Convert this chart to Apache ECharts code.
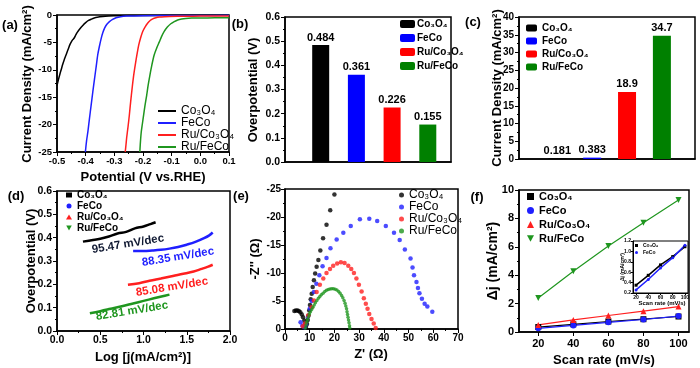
<!DOCTYPE html>
<html><head><meta charset="utf-8">
<script src="https://cdn.jsdelivr.net/npm/echarts@6/dist/echarts.min.js"></script>
<style>html,body{margin:0;padding:0;background:#fff}#c{width:700px;height:368px}</style>
</head><body><div id="c"></div>
<script>
// ---------------- DATA ----------------
const sampleNames = ['Co₃O₄', 'FeCo', 'Ru/Co₃O₄', 'Ru/FeCo'];

// (a) LSV curves: [potential V vs RHE, current density mA/cm2]
const lsvCo3O4 = [[-0.5,-12.9],[-0.495,-11.8],[-0.49,-10.8],[-0.485,-9.9],[-0.48,-9.0],[-0.475,-8.2],[-0.47,-7.5],[-0.465,-6.8],[-0.46,-6.1],[-0.455,-5.4],[-0.45,-4.9],[-0.445,-4.5],[-0.44,-4.2],[-0.435,-3.7],[-0.43,-3.2],[-0.42,-2.5],[-0.41,-1.9],[-0.40,-1.4],[-0.39,-1.0],[-0.38,-0.75],[-0.37,-0.55],[-0.36,-0.42],[-0.34,-0.28],[-0.32,-0.2],[-0.30,-0.15],[-0.25,-0.1],[-0.2,-0.08],[-0.1,-0.06],[0,-0.05],[0.1,-0.03]];
const lsvFeCo = [[-0.401,-25],[-0.397,-23],[-0.392,-21.2],[-0.387,-19],[-0.381,-16.5],[-0.375,-14],[-0.369,-11.6],[-0.363,-9.3],[-0.358,-7.3],[-0.352,-5.7],[-0.346,-4.3],[-0.34,-3.2],[-0.334,-2.4],[-0.326,-1.7],[-0.317,-1.2],[-0.306,-0.8],[-0.294,-0.5],[-0.278,-0.3],[-0.259,-0.2],[-0.2,-0.12],[-0.1,-0.1],[0,-0.08],[0.1,-0.06]];
const lsvRuCo3O4 = [[-0.262,-25],[-0.259,-23.5],[-0.257,-22.4],[-0.252,-20.3],[-0.2475,-18.2],[-0.243,-15.8],[-0.238,-13.4],[-0.233,-11.2],[-0.227,-9.1],[-0.221,-7.2],[-0.215,-5.5],[-0.208,-4.1],[-0.201,-3.0],[-0.193,-2.2],[-0.184,-1.5],[-0.175,-1.0],[-0.166,-0.7],[-0.155,-0.5],[-0.143,-0.38],[-0.125,-0.3],[-0.108,-0.26],[-0.05,-0.22],[0,-0.2],[0.1,-0.18]];
const lsvRuFeCo = [[-0.211,-25],[-0.209,-23.2],[-0.206,-21.3],[-0.202,-19.8],[-0.198,-18.3],[-0.193,-16.5],[-0.187,-14.6],[-0.182,-12.8],[-0.176,-11.0],[-0.169,-9.1],[-0.161,-7.3],[-0.152,-6.0],[-0.143,-4.9],[-0.135,-3.9],[-0.126,-3.0],[-0.115,-2.2],[-0.103,-1.6],[-0.091,-1.2],[-0.079,-0.9],[-0.065,-0.72],[-0.051,-0.62],[-0.03,-0.56],[0,-0.54],[0.05,-0.52],[0.1,-0.5]];

// (b) overpotential (V) and (c) current density (mA/cm2)
const barPositions = [1, 2, 3, 4];
const overpotential = [0.484, 0.361, 0.226, 0.155];
const currentDensity = [0.181, 0.383, 18.9, 34.7];

// (d) Tafel: [log j, overpotential V]
const tafelCo3O4 = [[0.3,0.383],[0.4,0.389],[0.5,0.395],[0.6,0.405],[0.7,0.418],[0.8,0.425],[0.9,0.44],[1.0,0.448],[1.08,0.458],[1.14,0.466]];
const tafelFeCo = [[0.88,0.343],[1.0,0.343],[1.1,0.345],[1.2,0.348],[1.3,0.353],[1.4,0.36],[1.5,0.37],[1.6,0.382],[1.7,0.398],[1.76,0.41],[1.8,0.422]];
const tafelRuCo3O4 = [[0.82,0.198],[0.95,0.205],[1.07,0.215],[1.2,0.225],[1.34,0.236],[1.46,0.245],[1.58,0.255],[1.66,0.265],[1.74,0.275],[1.8,0.284]];
const tafelRuFeCo = [[0.38,0.076],[0.5,0.085],[0.62,0.095],[0.75,0.106],[0.88,0.118],[1.0,0.129],[1.12,0.14],[1.22,0.149],[1.3,0.156]];
const tafelSlopes = ['95.47 mV/dec', '88.35 mV/dec', '85.08 mV/dec', '82.81 mV/dec'];

// (e) Nyquist: [Z', -Z'']
const eisCo3O4 = [[3.8,-3.2],[4.4,-3.3],[5.0,-3.3],[5.6,-3.2],[6.2,-3.0],[6.8,-2.6],[7.3,-2.1],[7.8,-1.5],[8.2,-0.9],[8.5,-0.4],[8.9,-0.9],[9.2,-1.6],[9.5,-2.4],[9.8,-3.3],[10.1,-4.3],[10.4,-5.3],[10.8,-6.3],[11.2,-7.5],[11.7,-8.7],[12.2,-9.9],[12.8,-11.1],[13.5,-12.3],[14.3,-14.0],[15.4,-16.2],[16.8,-18.6],[18.3,-21.2],[20.0,-24.0]];
const eisFeCo = [[6.3,-1.2],[7.0,-0.6],[7.8,-0.3],[8.5,-0.8],[9.3,-2.2],[10.0,-3.6],[10.8,-5.0],[11.7,-6.6],[12.7,-8.1],[13.9,-9.6],[15.2,-11.2],[16.8,-12.7],[18.4,-14.4],[20.9,-16.0],[23.6,-17.2],[26.6,-18.4],[30.3,-19.6],[34.1,-19.7],[37.3,-19.3],[40.8,-18.4],[44.1,-17.2],[46.4,-15.9],[48.5,-14.2],[50.8,-12.6],[51.6,-11.0],[52.2,-9.6],[53.2,-8.4],[53.8,-7.3],[54.4,-6.4],[55.4,-5.4],[56.5,-4.5],[57.6,-4.0],[59.6,-3.1]];
const eisRuCo3O4 = [[7.2,-0.5],[8.1,-1.0],[9.4,-2.4],[10.8,-3.9],[11.7,-5.1],[12.8,-6.6],[14.1,-7.9],[15.5,-9.0],[16.8,-10.0],[18.2,-10.7],[19.5,-11.3],[21.1,-11.7],[22.6,-11.9],[24.1,-11.8],[25.6,-11.3],[26.8,-10.7],[27.9,-10.0],[28.9,-9.0],[29.9,-7.9],[31.0,-6.7],[31.9,-5.5],[32.7,-4.5],[33.4,-3.6],[34.1,-2.7],[35.0,-1.8],[35.9,-1.0],[36.7,-0.2]];
const eisRuFeCo = [[8.2,-0.2],[8.5,-0.7],[8.8,-1.2],[9.1,-1.7],[9.5,-2.2],[9.9,-2.7],[10.3,-3.1],[10.8,-3.5],[11.3,-3.9],[11.8,-4.3],[12.3,-4.7],[12.9,-5.1],[13.5,-5.5],[14.1,-5.8],[14.7,-6.1],[15.4,-6.4],[16.1,-6.7],[16.8,-6.9],[17.5,-7.05],[18.2,-7.15],[18.9,-7.2],[19.6,-7.2],[20.3,-7.1],[21.0,-6.95],[21.7,-6.7],[22.3,-6.4],[22.9,-6.0],[23.4,-5.6],[23.9,-5.1],[24.3,-4.6],[24.6,-4.1],[24.9,-3.6],[25.1,-3.1],[25.3,-2.6],[25.5,-2.1],[25.7,-1.6],[25.9,-1.1],[26.1,-0.6],[26.2,-0.2]];

// (f) double-layer: scan rate (mV/s) vs delta j (mA/cm2)
const scanRates = [20, 40, 60, 80, 100];
const djCo3O4 = [0.35, 0.54, 0.74, 0.90, 1.09];
const djFeCo = [0.26, 0.46, 0.68, 0.88, 1.12];
const djRuCo3O4 = [0.50, 0.85, 1.16, 1.47, 1.79];
const djRuFeCo = [2.40, 4.28, 6.05, 7.70, 9.30];

// ---------------- STYLE ----------------
const FONT = 'Arial, "Liberation Sans", Helvetica, sans-serif';
const lineColors = ['#000000', '#1f1fff', '#ff1f1f', '#1f961f'];
const barColors = ['#000000', '#0000ff', '#ff0000', '#008000'];
const zip = (xs, ys) => xs.map((x, i) => [x, ys[i]]);
const fix1 = v => (Math.abs(v) < 1e-9 ? 0 : v).toFixed(1);

function axis(gi, o) {
  const lab = Object.assign({color:'#000', fontWeight:'bold', fontSize:10, fontFamily:FONT, margin:5, showMinLabel:true, showMaxLabel:true}, o.label || {});
  const a = {
    gridIndex: gi, type: 'value',
    axisLine: {show:true, onZero:false, lineStyle:{color:'#000', width:o.lw || 1.5}},
    axisTick: Object.assign({show:true, inside:false, length:4, lineStyle:{color:'#000', width:1}}, o.tick || {}),
    minorTick: Object.assign({show:true, splitNumber:2, length:2, lineStyle:{color:'#000', width:1}}, o.minor || {}),
    axisLabel: lab,
    splitLine: {show:false}
  };
  ['min','max','interval','inverse','position'].forEach(k => { if (o[k] !== undefined) a[k] = o[k]; });
  return a;
}
const frame = (left, top, width, height, extra) => Object.assign({left, top, width, height, show:true, borderColor:'#000', borderWidth:1.5, backgroundColor:'transparent'}, extra || {});

const grids = [
  frame(57, 15, 172, 137),   // a
  frame(285, 17, 166, 145),  // b
  frame(519, 17, 176, 142),  // c
  frame(57, 191, 173, 140),  // d
  frame(285, 189, 173, 140), // e
  frame(519, 190, 170, 142), // f
  frame(633, 241, 55, 52, {borderWidth:1, backgroundColor:'#fff'}) // f inset
];

const xAxes = [
  axis(0, {min:-0.5, max:0.1, interval:0.1, label:{formatter:fix1, margin:4, fontSize:9.5}}),
  axis(1, {min:0, max:4.65, label:{show:false}, tick:{show:false}, minor:{show:false}}),
  axis(2, {min:-0.1, max:4.95, label:{show:false}, tick:{show:false}, minor:{show:false}}),
  axis(3, {min:0, max:2, interval:0.5, label:{formatter:fix1, margin:4, fontSize:10.5}}),
  axis(4, {min:0, max:70, interval:10, label:{margin:4, fontSize:10}}),
  axis(5, {min:9, max:106, label:{fontSize:11, margin:6, customValues:scanRates}, tick:{customValues:scanRates}, minor:{show:false}}),
  axis(6, {min:15, max:105, lw:1, label:{fontSize:5, margin:2, customValues:scanRates}, tick:{customValues:scanRates, length:2}, minor:{show:false}})
];
const yAxes = [
  axis(0, {min:-25, max:0, interval:5, label:{margin:5, fontSize:9.5}}),
  axis(1, {min:0, max:0.6, interval:0.1, label:{formatter:fix1, margin:5, fontSize:10.5}}),
  axis(2, {min:0, max:40, interval:5, label:{margin:5}}),
  axis(3, {min:0, max:0.6, interval:0.1, label:{formatter:fix1, margin:5, fontSize:10.5}}),
  axis(4, {min:-25, max:0, interval:5, inverse:true, label:{margin:4}}),
  axis(5, {min:0, max:10, interval:2, label:{fontSize:11, margin:5}}),
  axis(6, {min:0.2, max:1.2, interval:0.2, lw:1, label:{fontSize:5, margin:2, formatter:fix1}, tick:{length:2}, minor:{show:false}})
];

const series = [];
// (a)
[lsvCo3O4, lsvFeCo, lsvRuCo3O4, lsvRuFeCo].forEach((d, i) => series.push({
  type:'line', name:'a:' + sampleNames[i], xAxisIndex:0, yAxisIndex:0, data:d, symbol:'none', smooth:0.3,
  lineStyle:{color:lineColors[i], width:1.5}, itemStyle:{color:lineColors[i]}, clip:true
}));
// (b), (c)
const barLabel = {show:true, position:'top', distance:2, formatter:p => String(p.value[1]), color:'#000', fontWeight:'bold', fontSize:11, fontFamily:FONT};
sampleNames.forEach((n, i) => series.push({
  type:'bar', name:'b:' + n, xAxisIndex:1, yAxisIndex:1, data:[[barPositions[i], overpotential[i]]],
  barWidth:17, barGap:'-100%', itemStyle:{color:barColors[i]}, label:barLabel
}));
sampleNames.forEach((n, i) => series.push({
  type:'bar', name:'c:' + n, xAxisIndex:2, yAxisIndex:2, data:[[barPositions[i], currentDensity[i]]],
  barWidth:18, barGap:'-100%', itemStyle:{color:barColors[i]}, label:barLabel
}));
// (d)
[tafelCo3O4, tafelFeCo, tafelRuCo3O4, tafelRuFeCo].forEach((d, i) => series.push({
  type:'line', name:'d:' + sampleNames[i], xAxisIndex:3, yAxisIndex:3, data:d, symbol:'none', smooth:0.4,
  lineStyle:{color:lineColors[i], width:2.5}, itemStyle:{color:lineColors[i]}
}));
// (e)
[eisCo3O4, eisFeCo, eisRuCo3O4, eisRuFeCo].forEach((d, i) => series.push({
  type:'scatter', name:'e:' + sampleNames[i], xAxisIndex:4, yAxisIndex:4, data:d, symbol:'circle',
  symbolSize: i === 3 ? 3.5 : 4.5, itemStyle:{color:lineColors[i]}, z: 3 + i
}));
// (f)
const fSymbols = ['rect', 'circle', 'triangle', 'triangle'];
[djCo3O4, djFeCo, djRuCo3O4, djRuFeCo].forEach((d, i) => series.push({
  type:'line', name:'f:' + sampleNames[i], xAxisIndex:5, yAxisIndex:5, data:zip(scanRates, d),
  symbol:fSymbols[i], symbolRotate: i === 3 ? 180 : 0, symbolSize:6, showSymbol:true,
  lineStyle:{color:lineColors[i], width:1.2}, itemStyle:{color:lineColors[i]}
}));
// (f) inset
[djCo3O4, djFeCo].forEach((d, i) => series.push({
  type:'line', name:'g:' + sampleNames[i], xAxisIndex:6, yAxisIndex:6, data:zip(scanRates, d),
  symbol:fSymbols[i], symbolSize:3, lineStyle:{color:lineColors[i], width:1.5}, itemStyle:{color:lineColors[i]}, z:10
}));

const invTri = 'path://M0,0L10,0L5,9Z';
function legend(prefix, o) {
  const icons = o.icons;
  return {
    orient:'vertical', left:o.left, top:o.top, itemWidth:o.w, itemHeight:o.h, itemGap:o.gap,
    selectedMode:false, padding:0,
    data: sampleNames.slice(0, o.count || 4).map((n, i) => icons ? {name:prefix + n, icon:icons[i]} : {name:prefix + n}),
    formatter: name => name.slice(2),
    textStyle:{color:'#000', fontSize:o.fs, fontWeight:o.fw || 'bold', fontFamily:FONT, padding:o.tp || 0}
  };
}
const legends = [
  legend('a:', {left:158, top:105, w:18, h:2, gap:0, fs:12, fw:'normal', icons:['rect','rect','rect','rect']}),
  legend('b:', {left:400, top:19, w:15, h:8, gap:4, fs:10, tp:[0,0,0,-3]}),
  legend('c:', {left:526, top:23, w:11, h:7, gap:3, fs:10}),
  legend('d:', {left:66, top:190, w:6, h:5, gap:1, fs:10, icons:['rect','circle','triangle',invTri]}),
  legend('e:', {left:399, top:189, w:5, h:5, gap:0, fs:12, fw:'normal', icons:['circle','circle','circle','circle']}),
  legend('f:', {left:527, top:191, w:7, h:7, gap:3, fs:11, icons:['rect','circle','triangle',invTri]}),
  legend('g:', {left:635, top:243, w:3, h:3, gap:2, fs:5, count:2, icons:['rect','circle']})
];

const T = (x, y, text, o) => { o = o || {}; return {
  type:'text', x, y, rotation:o.rot || 0, z:100,
  style:{text, fill:o.color || '#000', font:(o.weight || 'bold') + ' ' + (o.size || 13) + 'px ' + FONT, align:'center', verticalAlign:'middle'}
}; };
const R = Math.PI / 2, slant = 0.16;
const graphics = [
  T(10, 25, '(a)'), T(240, 24, '(b)'), T(473, 22, '(c)'), T(16, 196, '(d)'), T(241, 196, '(e)'), T(477, 197, '(f)'),
  T(27, 84, 'Current Density (mA/cm²)', {rot:R}), T(143, 177, 'Potential (V vs.RHE)'),
  T(253, 90, 'Overpotential (V)', {rot:R}),
  T(497, 88, 'Current Density (mA/cm²)', {rot:R}),
  T(31, 261, 'Overpotential (V)', {rot:R}), T(143, 357, 'Log [j(mA/cm²)]'),
  T(255, 259, '-Z\'\' (Ω)', {rot:R}), T(371, 354, 'Z\' (Ω)'),
  T(493, 261, 'Δj (mA/cm²)', {rot:R, size:14}), T(604, 360, 'Scan rate (mV/s)'),
  T(623, 267, 'Δj (mA/cm²)', {rot:R, size:5}), T(662, 303, 'Scan rate (mV/s)', {size:6}),
  T(128, 244, tafelSlopes[0], {rot:slant, size:11.5, color:'#111a33'}),
  T(178, 257, tafelSlopes[1], {rot:slant, size:11.5, color:lineColors[1]}),
  T(172, 287, tafelSlopes[2], {rot:slant, size:11.5, color:lineColors[2]}),
  T(132, 311, tafelSlopes[3], {rot:slant, size:11.5, color:lineColors[3]})
];

const chart = echarts.init(document.getElementById('c'), null, {renderer:'canvas'});
chart.setOption({
  animation:false, backgroundColor:'#fff',
  grid:grids, xAxis:xAxes, yAxis:yAxes, series, legend:legends, graphic:graphics
});
</script></body></html>
